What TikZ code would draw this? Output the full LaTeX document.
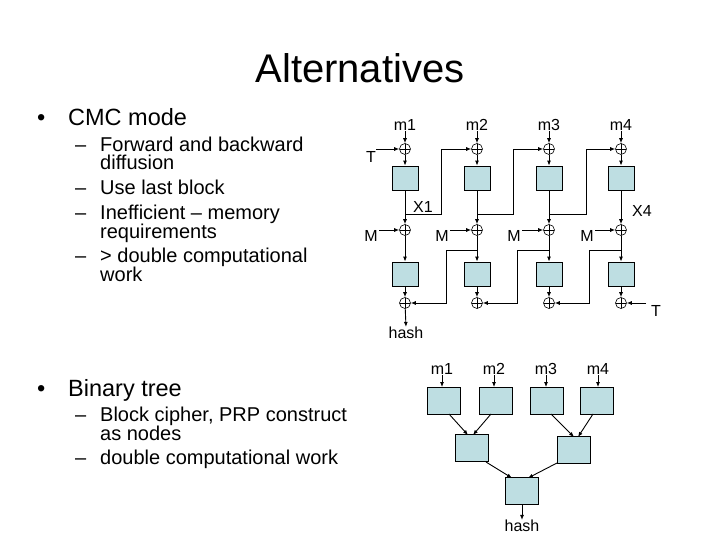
\documentclass[tikz,border=0pt]{standalone}
\usepackage{fontspec}
\setmainfont{Liberation Sans}
\usetikzlibrary{arrows.meta}
\begin{document}
\begin{tikzpicture}[x=1pt,y=-1pt,
  blk/.style={draw,fill={rgb,255:red,190;green,222;blue,226},minimum width=26pt,minimum height=24pt,inner sep=0pt,line width=0.8pt},
  tblk/.style={draw,fill={rgb,255:red,190;green,222;blue,226},minimum width=33pt,minimum height=27pt,inner sep=0pt,line width=0.8pt},
  xr/.style={draw,circle,minimum size=11pt,inner sep=0pt,line width=0.6pt,path picture={\draw (path picture bounding box.north)--(path picture bounding box.south) (path picture bounding box.west)--(path picture bounding box.east);}},
  ar/.style={-{Latex[length=5pt,width=4pt]},line width=0.9pt},
  lab/.style={font=\fontsize{16}{16}\selectfont,inner sep=0pt},
  txt/.style={font=\fontsize{20}{20}\selectfont,inner sep=0pt,anchor=base west,align=left},
  btx/.style={font=\fontsize{23.5}{24}\selectfont,inner sep=0pt,anchor=base west}]
\useasboundingbox (0,0) rectangle (720,540);
\node[font=\fontsize{40}{40}\selectfont] (title) at (360,68) {Alternatives};
\node[btx] (b1d) at (37,126) {\textbullet};
\node[btx] (b1) at (68,126) {CMC mode};
\foreach \n/\y/\t/\d in {s1/152/Forward and backward/1,s1b/170/diffusion/0,s2/195/Use last block/1,s3/219/Inefficient – memory/1,s3b/238/requirements/0,s4/262/> double computational/1,s4b/281/work/0}{
  \node[txt] (\n) at (100,\y) {\t};
  \ifnum\d=1 \node[txt] (\n d) at (75,\y) {–};\fi
}
\node[btx] (b2d) at (37,396) {\textbullet};
\node[btx] (b2) at (68,396) {Binary tree};
\foreach \n/\y/\t/\d in {t1/421/{Block cipher, PRP construct}/1,t1b/440/as nodes/0,t2/464/double computational work/1}{
  \node[txt] (\n) at (100,\y) {\t};
  \ifnum\d=1 \node[txt] (\n d) at (75,\y) {–};\fi
}
% CMC
\foreach \i/\x in {1/405,2/477,3/549,4/621}{
  \node[lab] (m\i) at (\x,125) {m\i};
  \node[xr] (xa\i) at (\x,149) {};
  \node[blk] (ba\i) at (\x,178) {};
  \node[xr] (xb\i) at (\x,230) {};
  \node[blk] (bb\i) at (\x,274) {};
  \node[xr] (xc\i) at (\x,303) {};
  \draw[ar] (m\i) -- (xa\i);
  \draw[ar] (xa\i) -- (ba\i);
  \draw[ar] (ba\i) -- (xb\i);
  \draw[ar] (xb\i) -- (bb\i);
  \draw[ar] (bb\i) -- (xc\i);
}
\foreach \i/\x in {1/371,2/442,3/514,4/587}{
  \node[lab] (M\i) at (\x,236) {M};
  \coordinate (Me\i) at (\x+8,230);
}
\foreach \i in {1,...,4}{\draw[ar] (Me\i) -- (xb\i);}
\node[lab] (T1) at (371,157) {T};
\draw[ar] (T1.east |- xa1) -- (xa1);
\node[lab] (T2) at (656,311) {T};
\coordinate (T2s) at (646,303);
\draw[ar] (T2s) -- (xc4);
\node[lab] (X1) at (423,207) {X1};
\node[lab] (X4) at (642,211) {X4};
\node[lab] (hash1) at (406,333) {hash};
\draw[ar] (xc1) -- (hash1.north);
\foreach \a/\b/\u in {1/2/441,2/3/513,3/4/586}{
  \draw[ar] (ba\a.south |- 0,214) -| (\u,149) -- (xa\b);
}
\foreach \a/\b/\u in {2/1/446,3/2/517,4/3/589}{
  \draw[ar] (ba\a.south |- 0,250) -| (\u,303) -- (xc\b);
}
% tree
\foreach \i/\x/\lx in {1/444/442,2/496/494,3/547/546,4/597/598}{
  \node[tblk] (c\i) at (\x,401) {};
  \node[lab] (n\i) at (\lx,369) {m\i};
  \draw[ar] (n\i) -- (c\i.north -| n\i);
}
\node[tblk] (d1) at (472,448) {};
\node[tblk] (d2) at (574,450) {};
\node[tblk] (e) at (522,491) {};
\node[lab] (hash2) at (522,526) {hash};
\draw[ar] (449,414) -- (468,435);
\draw[ar] (491,414) -- (473,435);
\draw[ar] (551,414) -- (574,437);
\draw[ar] (593,414) -- (578,437);
\draw[ar] (486,462) -- (512,478);
\draw[ar] (557,463) -- (528,478);
\draw[ar] (e) -- (hash2.north);
\end{tikzpicture}
\end{document}
